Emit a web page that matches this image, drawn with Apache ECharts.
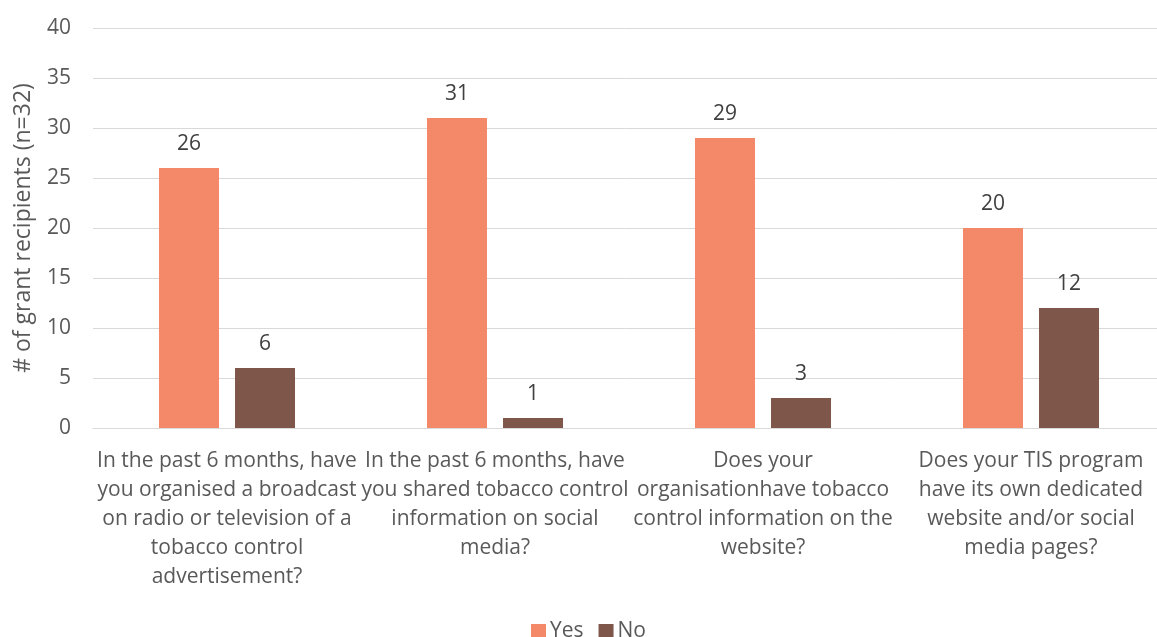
<!DOCTYPE html>
<html>
<head>
<meta charset="utf-8">
<script src="https://cdn.jsdelivr.net/npm/echarts@6/dist/echarts.min.js"></script>
<style>
  html, body { margin: 0; padding: 0; background: #fff; overflow: hidden; }
  #chart { width: 1157px; height: 637px; }
</style>
</head>
<body>
<div id="chart"></div>
<script>
// Survey questions (category axis), wrapped as displayed
const questions = [
  "In the past 6 months, have\nyou organised a broadcast\non radio or television of a\ntobacco control\nadvertisement?",
  "In the past 6 months, have\nyou shared tobacco control\ninformation on social\nmedia?",
  "Does your\norganisationhave tobacco\ncontrol information on the\nwebsite?",
  "Does your TIS program\nhave its own dedicated\nwebsite and/or social\nmedia pages?"
];
const yesCounts = [26, 31, 29, 20];
const noCounts = [6, 1, 3, 12];
const yTicks = [0, 5, 10, 15, 20, 25, 30, 35, 40];

const font = "'Open Sans', 'Noto Sans', sans-serif";
const chart = echarts.init(document.getElementById('chart'));

chart.setOption({
  animation: false,
  textStyle: { fontFamily: font },
  legend: {
    data: ['Yes', 'No'],
    bottom: -10,
    left: 526,
    itemWidth: 15,
    itemHeight: 15,
    itemGap: 15,
    icon: 'rect',
    textStyle: { fontSize: 21, color: '#595959', fontFamily: font, padding: [0, 0, 0, -1] }
  },
  grid: { left: 93, right: -8, top: 28, bottom: 209, outerBoundsMode: 'none', containLabel: false },
  xAxis: {
    type: 'category',
    data: questions,
    axisTick: { show: false },
    axisLine: { lineStyle: { color: '#d9d9d9', width: 1 } },
    axisLabel: {
      interval: 0,
      color: '#595959',
      fontSize: 21,
      lineHeight: 29,
      margin: 19,
      fontFamily: font
    }
  },
  yAxis: {
    type: 'value',
    min: yTicks[0],
    max: yTicks[yTicks.length - 1],
    interval: 5,
    name: '# of grant recipients (n=32)',
    nameLocation: 'middle',
    nameGap: 58,
    nameTextStyle: { fontSize: 23, color: '#595959', fontFamily: font },
    axisLine: { show: false },
    axisTick: { show: false },
    axisLabel: { color: '#595959', fontSize: 21, margin: 22, fontFamily: font },
    splitLine: { lineStyle: { color: '#d9d9d9', width: 1 } }
  },
  series: [
    {
      name: 'Yes',
      type: 'bar',
      data: yesCounts,
      barWidth: 60,
      barGap: '26.7%',
      itemStyle: { color: '#F4896A' },
      label: { show: true, position: 'top', distance: 13, fontSize: 21, color: '#404040', fontFamily: font }
    },
    {
      name: 'No',
      type: 'bar',
      data: noCounts,
      barWidth: 60,
      itemStyle: { color: '#7F574A' },
      label: { show: true, position: 'top', distance: 13, fontSize: 21, color: '#404040', fontFamily: font }
    }
  ]
});
</script>
</body>
</html>
